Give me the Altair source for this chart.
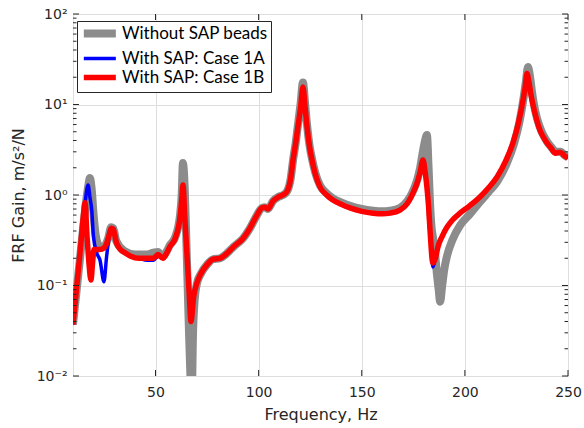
import altair as alt
import pandas as pd

series_names = ["Without SAP beads", "With SAP: Case 1A", "With SAP: Case 1B"]
series_colors = ["#8c8c8c", "#0000ff", "#ff0000"]
series_widths = [8, 3.5, 5.5]

# Without SAP beads
f_0 = [10, 11.8, 13.4, 15, 16.5, 17.5, 18.2, 19, 20, 21,
       22, 23, 25, 27, 28.5, 29.5, 31, 35, 40, 46,
       49, 51.2, 53.6, 55.5, 57, 59.5, 61.9, 62.7, 63.3, 64.2,
       65, 66, 67, 67.5, 68.2, 69, 70.1, 72, 75, 77.9,
       81.3, 84, 88, 92.4, 95.8, 99.2, 101.6, 103, 104.5, 107,
       109.5, 111.8, 113.8, 115.5, 116.7, 118, 119, 120.3, 121.5, 122.5,
       123.5, 124.7, 125.9, 127.5, 129.8, 133, 136, 140, 144.3, 150,
       155.5, 160, 163.7, 168.5, 172, 174.8, 176.8, 178.2, 179.5, 180.7,
       181.6, 182.4, 183.1, 183.8, 184.6, 185.5, 186.5, 187.3, 188, 189,
       190, 191.3, 194, 197.6, 202, 207.3, 211.5, 215.6, 220.4, 224,
       226.5, 228.5, 229.6, 230.6, 231.5, 232.5, 233.5, 235, 236.4, 238,
       239.8, 241.8, 243.7, 245, 246.5, 248, 250]
v_0 = [0.037, 0.09, 0.2, 0.45, 0.9, 1.3, 1.54, 1.2, 0.6, 0.36,
       0.29, 0.27, 0.27, 0.33, 0.44, 0.43, 0.31, 0.24, 0.22, 0.22,
       0.23, 0.235, 0.21, 0.24, 0.28, 0.34, 0.6, 1.0, 2.26, 1.13,
       0.29, 0.047, 0.009, 0.005, 0.03, 0.07, 0.105, 0.135, 0.17, 0.195,
       0.2, 0.22, 0.27, 0.33, 0.43, 0.6, 0.72, 0.73, 0.7, 0.86,
       0.95, 1.0, 1.1, 1.5, 2.44, 3.8, 5.8, 10, 17.5, 10.5,
       5.9, 3.5, 2.5, 1.75, 1.27, 1.04, 0.92, 0.83, 0.76, 0.7,
       0.67, 0.66, 0.67, 0.72, 0.85, 1.1, 1.45, 1.95, 2.9, 4.0,
       4.6, 2.0, 0.82, 0.45, 0.33, 0.23, 0.13, 0.09, 0.066, 0.1,
       0.15, 0.21, 0.32, 0.46, 0.6, 0.84, 1.08, 1.4, 2.26, 3.8,
       6.5, 12, 18, 26, 21, 14, 10, 7, 5.6, 4.6,
       3.9, 3.4, 3.05, 3.0, 3.0, 2.8, 2.6]

# With SAP: Case 1A
f_1a = [10, 11.8, 13.4, 15, 16.2, 17.3, 18.2, 19.1, 19.9, 21.5,
        23.1, 25, 26.3, 28, 29.5, 31, 33, 35.2, 38, 42,
        46, 49, 51.2, 53.6, 55.5, 57, 59.5, 61.9, 62.7, 63.3,
        64.3, 65.3, 66.3, 67.2, 68.5, 70.1, 72, 75, 77.9, 81.3,
        84, 88, 92.4, 95.8, 99.2, 101.6, 103, 104.5, 107, 109.5,
        111.8, 113.8, 115.5, 116.7, 118, 119, 120.3, 121.5, 122.5, 123.5,
        124.7, 125.9, 127.5, 129.8, 133, 136, 140, 144.3, 150, 155.5,
        160, 163.7, 168.5, 172, 174.8, 176.8, 178.2, 179.7, 180.7, 181.6,
        182.4, 183.1, 184.5, 185.7, 187, 189, 191.3, 194, 197.6, 202,
        207.3, 211.5, 215.6, 219.5, 223.3, 226, 228.2, 229.3, 230.1, 231,
        232, 233, 234.5, 236.4, 238, 239.8, 241.8, 243.7, 245, 246.5,
        248, 250]
v_1a = [0.037, 0.095, 0.22, 0.5, 0.95, 1.29, 0.95, 0.68, 0.35, 0.23,
        0.19, 0.11, 0.21, 0.39, 0.43, 0.3, 0.25, 0.23, 0.21, 0.2,
        0.19, 0.19, 0.21, 0.2, 0.23, 0.27, 0.33, 0.57, 0.88, 1.29,
        0.52, 0.21, 0.085, 0.04, 0.075, 0.107, 0.135, 0.17, 0.195, 0.2,
        0.22, 0.27, 0.33, 0.43, 0.6, 0.72, 0.73, 0.7, 0.86, 0.95,
        1.0, 1.1, 1.5, 2.44, 3.8, 5.6, 9, 15.6, 9.5, 5.6,
        3.4, 2.44, 1.7, 1.22, 1.0, 0.88, 0.79, 0.72, 0.66, 0.63,
        0.62, 0.63, 0.68, 0.8, 1.05, 1.35, 1.75, 2.44, 1.8, 1.22,
        0.75, 0.41, 0.16, 0.2, 0.27, 0.35, 0.44, 0.53, 0.63, 0.75,
        0.95, 1.2, 1.58, 2.3, 3.76, 6.3, 11.2, 16, 22, 18,
        13, 10, 7.2, 5.2, 4.4, 3.76, 3.3, 2.9, 2.95, 2.95,
        2.75, 2.56]

# With SAP: Case 1B
f_1b = [10, 11.8, 13.4, 15, 15.8, 16.8, 17.8, 18.7, 19.5, 20.2,
        21.5, 23, 25, 26.5, 27.5, 28.5, 29.5, 31, 33, 35.2,
        38, 42, 46, 49, 51.2, 53.6, 55.5, 57, 59.5, 61.9,
        62.7, 63.3, 64.3, 65.3, 66.3, 67.2, 68.5, 70.1, 72, 75,
        77.9, 81.3, 84, 88, 92.4, 95.8, 99.2, 101.6, 103, 104.5,
        107, 109.5, 111.8, 113.8, 115.5, 116.7, 118, 119, 120.3, 121.5,
        122.5, 123.5, 124.7, 125.9, 127.5, 129.8, 133, 136, 140, 144.3,
        150, 155.5, 160, 163.7, 168.5, 172, 174.8, 176.8, 178.2, 179.7,
        180.7, 181.6, 182.4, 183.1, 184.5, 185.7, 187, 189, 191.3, 194,
        197.6, 202, 207.3, 211.5, 215.6, 219.5, 223.3, 226, 228.2, 229.3,
        230.1, 231, 232, 233, 234.5, 236.4, 238, 239.8, 241.8, 243.7,
        245, 246.5, 248, 250]
v_1b = [0.037, 0.097, 0.23, 0.575, 0.82, 0.35, 0.17, 0.115, 0.18, 0.25,
        0.25, 0.25, 0.26, 0.3, 0.36, 0.43, 0.42, 0.3, 0.25, 0.23,
        0.21, 0.2, 0.2, 0.2, 0.22, 0.2, 0.23, 0.27, 0.33, 0.57,
        0.88, 1.29, 0.52, 0.21, 0.085, 0.04, 0.075, 0.107, 0.135, 0.17,
        0.195, 0.2, 0.22, 0.27, 0.33, 0.43, 0.6, 0.72, 0.73, 0.7,
        0.86, 0.95, 1.0, 1.1, 1.5, 2.44, 3.8, 5.6, 9, 15.6,
        9.5, 5.6, 3.4, 2.44, 1.7, 1.22, 1.0, 0.88, 0.79, 0.72,
        0.66, 0.63, 0.62, 0.63, 0.68, 0.8, 1.05, 1.35, 1.75, 2.44,
        1.8, 1.22, 0.75, 0.41, 0.177, 0.2, 0.27, 0.35, 0.44, 0.53,
        0.63, 0.75, 0.95, 1.2, 1.58, 2.3, 3.76, 6.3, 11.2, 16,
        22, 18, 13, 10, 7.2, 5.2, 4.4, 3.76, 3.3, 2.9,
        2.95, 2.95, 2.75, 2.56]

y_major = [0.01, 0.1, 1, 10, 100]
y_minor = [0.02, 0.03, 0.04, 0.05, 0.06, 0.07, 0.08, 0.09,
           0.2, 0.3, 0.4, 0.5, 0.6, 0.7, 0.8, 0.9,
           2, 3, 4, 5, 6, 7, 8, 9,
           20, 30, 40, 50, 60, 70, 80, 90]
x_ticks = [50, 100, 150, 200, 250]

assert len(f_0) == len(v_0) and len(f_1a) == len(v_1a) and len(f_1b) == len(v_1b), (
    len(f_0), len(v_0), len(f_1a), len(v_1a), len(f_1b), len(v_1b))

rows = []
for name, fs, vs in zip(series_names, [f_0, f_1a, f_1b], [v_0, v_1a, v_1b]):
    for f, v in zip(fs, vs):
        rows.append({"series": name, "f": f, "v": v})
df = pd.DataFrame(rows)

W, H = 495, 362
AX_FONT = "DejaVu Sans"
TXT = "#262626"

xscale = alt.Scale(domain=[10, 250], nice=False, zero=False)
yscale = alt.Scale(type="log", domain=[0.01, 100], nice=False)

xaxis = alt.Axis(values=x_ticks, title="Frequency, Hz", grid=True, gridColor="#dedede",
                 domain=False, ticks=False, labelPadding=9, labelFont=AX_FONT,
                 labelFontSize=14, labelColor=TXT, titleFont=AX_FONT, titleFontSize=16,
                 titleFontWeight="normal", titleColor=TXT, titlePadding=7, labelFlush=False)
yaxis = alt.Axis(values=y_major, title="FRF Gain, m/s²/N", grid=True, gridColor="#dedede",
                 domain=False, ticks=False, labelPadding=6, labelFont=AX_FONT,
                 labelFontSize=14, labelColor=TXT, titleFont=AX_FONT, titleFontSize=16,
                 titleFontWeight="normal", titleColor=TXT, titlePadding=10,
                 labelExpr="datum.value > 50 ? '10²' : datum.value > 5 ? '10¹' : datum.value > 0.5 ? '10⁰' : datum.value > 0.05 ? '10⁻¹' : '10⁻²'")

leg = alt.Legend(title=None, orient="none", legendX=4, legendY=7, strokeColor=TXT,
                 fillColor="white", padding=3, symbolOffset=5, labelFont="Lato",
                 labelFontSize=17, labelColor="black", symbolType="M-2,0H4",
                 symbolSize=114, labelOffset=18, rowPadding=-1, cornerRadius=0)

color = alt.Color("series:N", scale=alt.Scale(domain=series_names, range=series_colors), legend=leg)
sw = alt.StrokeWidth("series:N", scale=alt.Scale(type="ordinal", domain=series_names, range=series_widths), legend=leg)


def line_layer(name):
    return alt.Chart(df).transform_filter(alt.datum.series == name).mark_line(
        clip=True, strokeJoin="round", strokeCap="butt", interpolate="monotone"
    ).encode(
        x=alt.X("f:Q", scale=xscale, axis=xaxis),
        y=alt.Y("v:Q", scale=yscale, axis=yaxis),
        color=color,
        strokeWidth=sw,
    )


lines = [line_layer(n) for n in series_names]

ymaj_df = pd.DataFrame({"v": y_major})
ymin_df = pd.DataFrame({"v": y_minor})
xt_df = pd.DataFrame({"f": x_ticks})

def yt(data, x1, x2):
    return alt.Chart(data).mark_rule(color=TXT, strokeWidth=1).encode(
        y=alt.Y("v:Q", scale=yscale, axis=yaxis), x=alt.value(x1), x2=alt.value(x2))

def xt(y1, y2):
    return alt.Chart(xt_df).mark_rule(color=TXT, strokeWidth=1).encode(
        x=alt.X("f:Q", scale=xscale, axis=xaxis), y=alt.value(y1), y2=alt.value(y2))

ticks = [yt(ymaj_df, 0, 6), yt(ymin_df, 0, 3.5), yt(ymaj_df, W, W - 6), yt(ymin_df, W, W - 3.5),
         xt(H, H - 6), xt(0, 6)]

chart = alt.layer(*lines, *ticks).properties(
    width=W, height=H,
    autosize=alt.AutoSizeParams(type="none"),
    padding={"left": 73, "top": 14, "right": 16, "bottom": 52},
).configure_view(stroke=TXT, strokeWidth=1).configure(background="white")

chart.save("out.html", embed_options={"renderer": "svg", "actions": False})
